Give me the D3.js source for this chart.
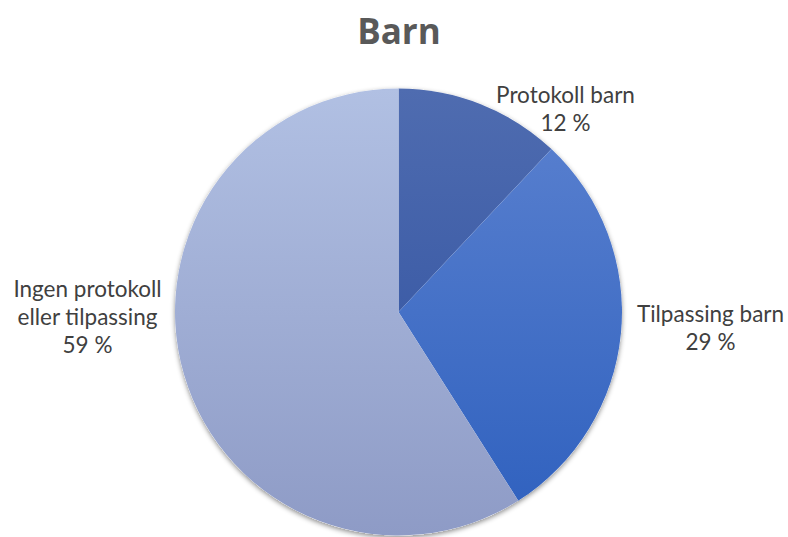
<!DOCTYPE html>
<html>
<head>
<meta charset="utf-8">
<script src="https://cdn.jsdelivr.net/npm/d3@7"></script>
<style>
  body { margin: 0; background: #fff; }
  svg { display: block; }
</style>
</head>
<body>
<svg id="chart"></svg>
<script>
"use strict";

const categories = ["Protokoll barn", "Tilpassing barn", "Ingen protokoll eller tilpassing"];
const values = [12, 29, 59];
const label_lines = [["Protokoll barn", "12 %"], ["Tilpassing barn", "29 %"], ["Ingen protokoll", "eller tilpassing", "59 %"]];
const colors_top = ["#4f6cb0", "#5c82d0", "#b1c0e3"];
const colors_bottom = ["#2c4e9e", "#2e60be", "#8e9bc6"];

const width = 788, height = 537;
const cx = 398.5, cy = 312, radius = 223.5;

const svg = d3.select("#chart").attr("width", width).attr("height", height);
const defs = svg.append("defs");

// gradients, one per slice, spanning the whole pie
categories.forEach((c, i) => {
  const g = defs.append("linearGradient")
    .attr("id", "grad" + i)
    .attr("gradientUnits", "userSpaceOnUse")
    .attr("x1", 0).attr("y1", -radius).attr("x2", 0).attr("y2", radius);
  g.append("stop").attr("offset", "0%").attr("stop-color", colors_top[i]);
  g.append("stop").attr("offset", "100%").attr("stop-color", colors_bottom[i]);
});

const shadow = defs.append("filter").attr("id", "shadow")
  .attr("x", "-10%").attr("y", "-10%").attr("width", "120%").attr("height", "120%");
shadow.append("feDropShadow").attr("dx", 0).attr("dy", 2).attr("stdDeviation", 2.5)
  .attr("flood-color", "#000").attr("flood-opacity", 0.45);

svg.append("text")
  .attr("x", width / 2 + 5).attr("y", 44)
  .attr("text-anchor", "middle")
  .attr("font-family", "'Open Sans', 'Liberation Sans', sans-serif")
  .attr("font-weight", "bold")
  .attr("font-size", 35)
  .attr("fill", "#595959")
  .text("Barn");

const pie = d3.pie().sort(null).value(d => d);
const arcs = pie(values);
const arc = d3.arc().innerRadius(0).outerRadius(radius);

const g_pie = svg.append("g").attr("transform", "translate(" + cx + "," + cy + ")");

g_pie.append("circle").attr("r", radius).attr("fill", "#fff").attr("filter", "url(#shadow)");

g_pie.selectAll("path.slice")
  .data(arcs)
  .enter()
  .append("path")
  .attr("class", "slice")
  .attr("d", arc)
  .attr("fill", (d, i) => "url(#grad" + i + ")");

// label positions (offsets from the pie center)
const label_pos = [[167, -209], [312, 10], [-311, -15]];
const line_h = 28;

g_pie.selectAll("text.lbl")
  .data(arcs)
  .enter()
  .append("text")
  .attr("class", "lbl")
  .attr("text-anchor", "middle")
  .attr("font-family", "Lato, 'Open Sans', sans-serif")
  .attr("font-size", 22.5)
  .attr("fill", "#404040")
  .each(function (d, i) {
    const t = d3.select(this);
    label_lines[i].forEach((s, j) => {
      t.append("tspan")
        .attr("x", label_pos[i][0])
        .attr("y", label_pos[i][1] + j * line_h)
        .text(s);
    });
  });
</script>
</body>
</html>
